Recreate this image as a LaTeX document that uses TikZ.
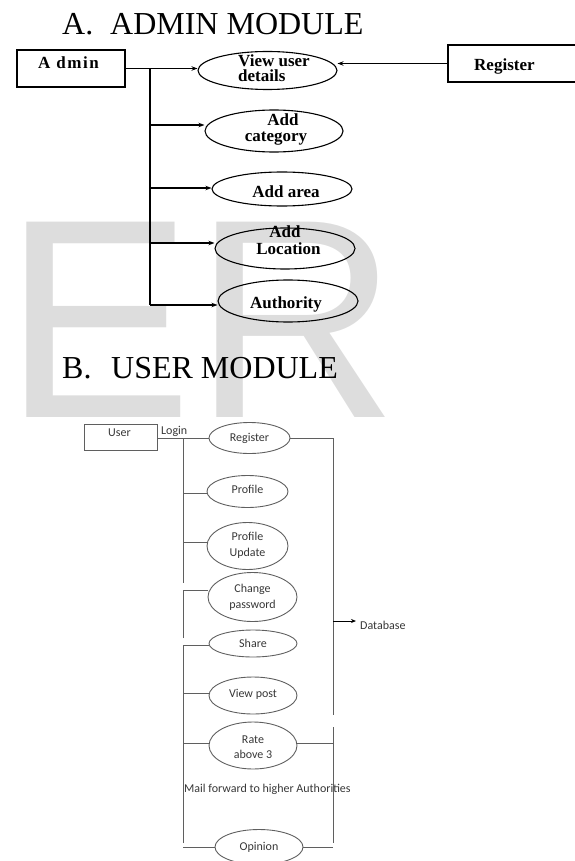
\documentclass[tikz,border=0pt]{standalone}
\usepackage{fontspec}
\setmainfont{Liberation Serif}
\newfontfamily\calib{Carlito}
\newfontfamily\wmfont{Liberation Sans}
\usetikzlibrary{shapes.geometric,arrows.meta}
\definecolor{wmgray}{RGB}{221,221,221}
\definecolor{ulinec}{RGB}{95,95,95}
\definecolor{utextc}{RGB}{55,55,55}
\begin{document}
\begin{tikzpicture}[x=1pt,y=-1pt,
  aline/.style={line width=1.1pt, draw=black},
  arr/.style={aline, -{Stealth[length=6pt,width=4.5pt]}},
  aell/.style={ellipse, draw=black, line width=1.1pt, inner sep=0pt},
  abox/.style={rectangle, draw=black, line width=1.2pt, inner sep=0pt},
  atxt/.style={inner sep=0pt, font=\fontsize{17}{17}\selectfont\bfseries},
  uln/.style={line width=0.9pt, draw=ulinec},
  uell/.style={ellipse, draw=ulinec, line width=0.9pt, inner sep=0pt},
  ubox/.style={rectangle, draw=ulinec, line width=0.9pt, inner sep=0pt},
  utxt/.style={inner sep=0pt, text=utextc, font=\calib\fontsize{12}{12}\selectfont},
  ttl/.style={inner sep=0pt, font=\fontsize{32}{32}\selectfont}]

\useasboundingbox (0,0) rectangle (574,861);

% watermark
\node[inner sep=0pt, anchor=base west, text=wmgray, font=\wmfont\fontsize{284}{284}\selectfont] (wm) at (3.5,417) {ER};

% titles
\node[ttl, anchor=base west] (titleA) at (62,35) {\makebox[48pt][l]{A.}ADMIN MODULE};
\node[ttl, anchor=base west] (titleB) at (62,378) {\makebox[49pt][l]{B.}USER MODULE};

% ---------------- Admin module ----------------
\node[abox, minimum width=108pt, minimum height=37pt] (admin) at (71,68.5) {};
\node[atxt, anchor=base west] (tadmin) at (38,69) {A\kern6pt d\kern1.5pt m\kern1.5pt i\kern1.5pt n};
\node[abox, minimum width=142pt, minimum height=37pt] (reg) at (519,63.5) {};
\node[atxt, anchor=base west] (treg) at (474,71) {Register};

\node[aell, minimum width=139pt, minimum height=38pt] (vud) at (267.5,70.5) {};
\node[atxt, anchor=base west] (tvud1) at (238,67) {View user};
\node[atxt, anchor=base west] (tvud2) at (238,82) {details};

\node[aell, minimum width=138pt, minimum height=42pt] (addcat) at (274,131) {};
\node[atxt, anchor=base] (tcat1) at (283,126) {Add};
\node[atxt, anchor=base] (tcat2) at (276,142) {category};

\node[aell, minimum width=140pt, minimum height=34pt] (addarea) at (282,189) {};
\node[atxt, anchor=base] (tarea) at (286,197) {Add area};

\node[aell, minimum width=140pt, minimum height=41pt] (addloc) at (285,248.5) {};
\node[atxt, anchor=base] (tloc1) at (285,237) {Add};
\node[atxt, anchor=base] (tloc2) at (288.5,254) {Location};

\node[aell, minimum width=140pt, minimum height=42pt] (auth) at (288,301) {};
\node[atxt, anchor=base] (tauth) at (286,308) {Authority};

\coordinate (j0) at (150,68.5);
\coordinate (j1) at (150,125);
\coordinate (j2) at (150,188);
\coordinate (j3) at (150,243);
\coordinate (j4) at (150,305);
\draw[aline] (admin.east) -- (j0) -- (j4);
\draw[arr] (j0) -- (j0 -| vud.west);
\draw[arr] (j1) -- (j1 -| addcat.west);
\draw[arr] (j2) -- (j2 -| addarea.west);
\draw[arr] (j3) -- (j3 -| addloc.west);
\draw[arr] (j4) -- (j4 -| auth.west);
\draw[arr] (reg.west) -- (reg.west -| vud.east);

% ---------------- User module ----------------
\node[ubox, minimum width=73pt, minimum height=26pt] (user) at (120.5,437) {};
\node[utxt, anchor=base west] (tuser) at (108,436) {User};
\node[utxt, anchor=base west] (tlogin) at (161,434) {Login};

\node[uell, minimum width=81pt, minimum height=31pt] (ureg) at (249.5,438) {};
\node[utxt, anchor=base] (tureg) at (249.5,441) {Register};

\node[uell, minimum width=81pt, minimum height=32pt] (prof) at (247.5,491.5) {};
\node[utxt, anchor=base] (tprof) at (247.5,493) {Profile};

\node[uell, minimum width=81pt, minimum height=47pt] (profup) at (247.5,546) {};
\node[utxt, anchor=base] (tpu1) at (247.5,540) {Profile};
\node[utxt, anchor=base] (tpu2) at (247.5,556) {Update};

\node[uell, minimum width=89pt, minimum height=49pt] (chpw) at (252.5,597) {};
\node[utxt, anchor=base] (tcp1) at (252.5,592) {Change};
\node[utxt, anchor=base] (tcp2) at (252.5,608) {password};

\node[uell, minimum width=88pt, minimum height=27pt] (share) at (253,643.5) {};
\node[utxt, anchor=base] (tshare) at (253,647) {Share};

\node[uell, minimum width=88pt, minimum height=37pt] (vpost) at (253,695.5) {};
\node[utxt, anchor=base] (tvpost) at (253,697) {View post};

\node[uell, minimum width=88pt, minimum height=47pt] (rate) at (253,745.5) {};
\node[utxt, anchor=base] (trate1) at (253,743) {Rate};
\node[utxt, anchor=base] (trate2) at (253,758) {above 3};

\node[utxt, anchor=base west] (tmail) at (184,792) {Mail forward to higher Authorities};

\node[uell, minimum width=88pt, minimum height=35pt] (opin) at (259,847) {};
\node[utxt, anchor=base] (topin) at (259,850) {Opinion};

\node[utxt, anchor=base west] (tdb) at (360,629) {Database};

% left trunk
\coordinate (k0) at (183,438);
\coordinate (k1) at (183,493);
\coordinate (k2) at (183,542);
\coordinate (k2e) at (183,583);
\coordinate (k3) at (183,590);
\coordinate (k3e) at (183,638);
\coordinate (k4) at (183,645);
\coordinate (k5) at (183,693);
\coordinate (k6) at (183,743);
\coordinate (k6e) at (183,843);
\coordinate (k7) at (183,847);
\draw[uln] (user.east |- k0) -- (ureg.west);
\draw[uln] (k0) -- (k2e);
\draw[uln] (k1) -- (k1 -| prof.west);
\draw[uln] (k2) -- (k2 -| profup.west);
\draw[uln] (k3e) -- (k3) -- (k3 -| chpw.west);
\draw[uln] (k6e) -- (k4) -- (k4 -| share.west);
\draw[uln] (k5) -- (k5 -| vpost.west);
\draw[uln] (k6) -- (k6 -| rate.west);
\draw[uln] (k7) -- (k7 -| opin.west);

% right trunk
\coordinate (r0) at (333,438);
\coordinate (r0e) at (333,715);
\coordinate (r1) at (333,727);
\coordinate (r2) at (333,743);
\coordinate (r3) at (333,847);
\coordinate (rdb) at (333,621);
\coordinate (dbtip) at (356,621);
\draw[uln] (ureg.east) -- (r0) -- (r0e);
\draw[uln] (r1) -- (333,843);
\draw[uln] (r2 -| rate.east) -- (r2);
\draw[uln] (opin.east |- r3) -- (r3);
\draw[line width=0.9pt, draw=black, -{Stealth[length=5pt,width=4pt]}] (rdb) -- (dbtip);
\end{tikzpicture}
\end{document}
